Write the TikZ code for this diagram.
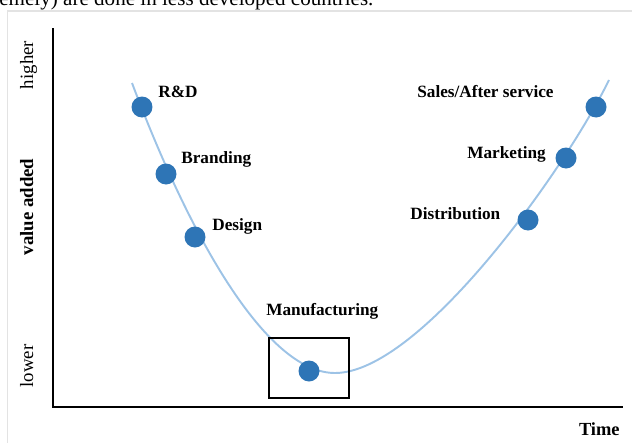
\documentclass[tikz,border=0pt]{standalone}
\usepackage{fontspec}
\setmainfont{Liberation Serif}
\usetikzlibrary{positioning}
\definecolor{curveblue}{HTML}{9DC3E6}
\definecolor{dotblue}{HTML}{2E75B6}
\definecolor{framegrey}{HTML}{E3E3E3}

\begin{document}
\begin{tikzpicture}[
  x=0.02cm, y=-0.02cm,
  every node/.style={inner sep=0pt},
  stage/.style={font=\bfseries\fontsize{9.8}{11}\selectfont, anchor=base west},
  stagedot/.style={circle, fill=dotblue, minimum size=0.42cm, inner sep=0pt},
  axislabel/.style={font=\fontsize{10.7}{12}\selectfont, rotate=90, anchor=base},
  axisline/.style={line width=0.85pt}
]
\clip (0,0) rectangle (632,443);

% cut-off caption line and page frame
\node[anchor=base west, font=\fontsize{12}{14}\selectfont] (caption) at (-1,5)
  {emely) are done in less developed countries.};
\draw[framegrey, line width=0.8pt] (7.5,443) |- (632,11);

% axes
\coordinate (origin) at (53,407);
\draw[axisline] (53,28) -- (origin) -- (623,407);
\node[axislabel] (higher) at (33,65) {higher};
\node[axislabel, font=\bfseries\fontsize{10.7}{12}\selectfont] (value) at (33,207) {value added};
\node[axislabel] (lower) at (33,366) {lower};
\node[stage, anchor=base east, font=\bfseries\fontsize{10.5}{12}\selectfont] (time) at (620,435) {Time};

% smile curve
\coordinate (bottom) at (335,373);
\draw[curveblue, line width=1.1pt]
  (132,83) .. controls (195,250) and (270,373) .. (bottom)
           .. controls (420,373) and (565,170) .. (609,80);

% manufacturing box
\draw[line width=0.7pt] (269,338) rectangle (349,398);

% stages
\node[stagedot] (rd)     at (142,107) {};
\node[stagedot] (brand)  at (166,174) {};
\node[stagedot] (design) at (195,237) {};
\node[stagedot] (manuf)  at (309,371) {};
\node[stagedot] (distr)  at (528,220) {};
\node[stagedot] (market) at (566,158) {};
\node[stagedot] (sales)  at (596,107) {};

\node[stage] (rdlbl)     at (158,97)  {R\&D};
\node[stage] (brandlbl)  at (181,163) {Branding};
\node[stage] (designlbl) at (212,230) {Design};
\node[stage] (manuflbl)  at (266,315) {Manufacturing};
\node[stage] (distrlbl)  at (410,219) {Distribution};
\node[stage] (marketlbl) at (467,158) {Marketing};
\node[stage] (saleslbl)  at (417,97)  {Sales/After service};
\end{tikzpicture}
\end{document}
